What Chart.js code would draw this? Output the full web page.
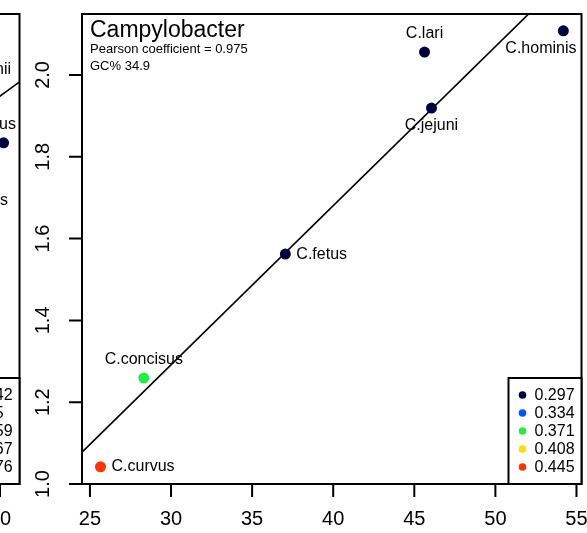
<!DOCTYPE html>
<html lang="en">
<head>
    <meta charset="utf-8">
    <title>Campylobacter</title>
    <script src="https://cdn.jsdelivr.net/npm/chart.js@4.4.1/dist/chart.umd.min.js"></script>
    <style>
        body { margin: 0; background: #fff; overflow: hidden; }
        #wrap { position: relative; width: 587px; height: 533px; overflow: hidden; }
        #wrap canvas { position: absolute; top: 0; }
    </style>
</head>
<body>

<div id="wrap">
    <canvas id="leftPanel" width="587" height="533" style="left:-562px"></canvas>
    <canvas id="graph" width="587" height="533" style="left:0"></canvas>
</div>

<script>
    // Campylobacter panel
    var species   = ["C.curvus", "C.concisus", "C.fetus", "C.jejuni", "C.lari", "C.hominis"];
    var gcPercent = [25.65, 28.32, 37.05, 46.06, 45.63, 54.19];
    var ratio     = [1.042, 1.259, 1.562, 1.919, 2.056, 2.108];
    var colourVal = [0.445, 0.371, 0.297, 0.297, 0.297, 0.297];
    var labelPos  = [4, 3, 4, 1, 3, 1];   // R style: 1 below, 2 left, 3 above, 4 right
    var fitX = [24.51, 52.05];
    var fitY = [1.078, 2.149];

    var legendVals = ["0.297", "0.334", "0.371", "0.408", "0.445"];
    var legendCols = ["#000040", "#0055ff", "#22ee44", "#ffdd00", "#ff3300"];

    var xTicks = [25, 30, 35, 40, 45, 50, 55];
    var yTicks = [1.0, 1.2, 1.4, 1.6, 1.8, 2.0];

    // neighbouring panel, only its right edge is in view
    var leftX = [50.22];
    var leftY = [1.834];
    var leftNotes = ["H.bizzozeronii", "H.hepaticus", "H.felis"];
    var leftNoteX = [50.68, 50.98, 50.49];
    var leftNoteY = [2.012, 1.878, 1.694];
    var leftFitX = [20.47, 51.2];
    var leftFitY = [1.09, 1.983];
    var leftLegendVals = ["0.342", "0.35", "0.359", "0.367", "0.376"];
    var leftXTicks = [25, 30, 35, 40, 45, 50];

    var FONT = '"Liberation Sans", Arial, Helvetica, sans-serif';

    function colourFor(v) {
        var best = 0;
        for (var i = 0; i < legendVals.length; i++) {
            if (Math.abs(parseFloat(legendVals[i]) - v) < Math.abs(parseFloat(legendVals[best]) - v)) best = i;
        }
        return legendCols[best];
    }

    // draws the R base graphics look: box, ticks, text, legend
    var rFrame = {
        id: "rFrame",
        afterDatasetsDraw: function(chart, args, o) {
            var ctx = chart.ctx, a = chart.chartArea;
            var sx = chart.scales.x, sy = chart.scales.y;
            ctx.save();
            ctx.strokeStyle = "#000";
            ctx.fillStyle = "#000";
            ctx.lineWidth = 2;
            ctx.strokeRect(a.left, a.top, a.right - a.left, a.bottom - a.top);

            // axes
            ctx.font = "20px " + FONT;
            ctx.textAlign = "center";
            ctx.textBaseline = "middle";
            ctx.beginPath();
            (o.xTicks || []).forEach(function(v) {
                var px = sx.getPixelForValue(v);
                ctx.moveTo(px, a.bottom);
                ctx.lineTo(px, a.bottom + 13);
                ctx.fillText(String(v), px, a.bottom + 35);
            });
            (o.yTicks || []).forEach(function(v) {
                var py = sy.getPixelForValue(v);
                ctx.moveTo(a.left - 13, py);
                ctx.lineTo(a.left, py);
                ctx.save();
                ctx.translate(a.left - 38.5, py);
                ctx.rotate(-Math.PI / 2);
                ctx.fillText(v.toFixed(1), 0, 0);
                ctx.restore();
            });
            ctx.stroke();

            // title block
            if (o.title) {
                ctx.textAlign = "left";
                ctx.textBaseline = "alphabetic";
                ctx.font = "23px " + FONT;
                ctx.fillText(o.title, a.left + 8, a.top + 23);
                ctx.font = "13px " + FONT;
                (o.sub || []).forEach(function(s, i) {
                    ctx.fillText(s, a.left + 8, a.top + 39 + i * 16.5);
                });
            }

            // point labels
            ctx.font = "16px " + FONT;
            ctx.textBaseline = "middle";
            var pts = chart.getDatasetMeta(0).data;
            (o.labels || []).forEach(function(txt, i) {
                var p = pts[i], pos = o.labelPos[i];
                var w = ctx.measureText(txt).width;
                var tx = p.x, ty = p.y;
                if (pos === 1) ty += 18;
                if (pos === 3) ty -= 18;
                if (pos === 1 || pos === 3) {
                    if (tx + w / 2 > a.right - 5) tx = a.right - 5 - w / 2;
                    ctx.textAlign = "center";
                } else if (pos === 4) {
                    tx += 11;
                    ctx.textAlign = "left";
                } else {
                    tx -= 11;
                    ctx.textAlign = "right";
                }
                ctx.fillText(txt, tx, ty);
            });
            (o.notes || []).forEach(function(txt, i) {
                ctx.textAlign = "right";
                ctx.fillText(txt, sx.getPixelForValue(o.noteX[i]), sy.getPixelForValue(o.noteY[i]));
            });

            // legend, bottom right
            if (o.legend) {
                var bw = 73, bh = 106;
                var lx = a.right - bw, ly = a.bottom - bh;
                ctx.fillStyle = "#fff";
                ctx.fillRect(lx, ly, bw, bh);
                ctx.lineWidth = 2;
                ctx.strokeRect(lx, ly, bw, bh);
                ctx.textAlign = "left";
                o.legend.forEach(function(txt, i) {
                    var ry = ly + 17 + i * 18;
                    ctx.fillStyle = legendCols[i];
                    ctx.beginPath();
                    ctx.arc(lx + 14, ry, 3.8, 0, Math.PI * 2);
                    ctx.fill();
                    ctx.fillStyle = "#000";
                    ctx.fillText(txt, lx + 26, ry + 1);
                });
            }
            ctx.restore();
        }
    };

    function makePanel(id, xs, ys, cols, lineX, lineY, xRange, frame) {
        var pts = xs.map(function(x, i) { return { x: x, y: ys[i] }; });
        var line = lineX.map(function(x, i) { return { x: x, y: lineY[i] }; });
        return new Chart(document.getElementById(id).getContext("2d"), {
            type: "scatter",
            data: {
                datasets: [
                    {
                        data: pts,
                        backgroundColor: cols,
                        borderWidth: 0,
                        pointRadius: 5.5,
                        pointHoverRadius: 5.5
                    },
                    {
                        type: "line",
                        data: line,
                        borderColor: "#000",
                        borderWidth: 1.7,
                        pointRadius: 0,
                        fill: false
                    }
                ]
            },
            options: {
                responsive: false,
                animation: false,
                devicePixelRatio: 1,
                layout: { padding: { left: 82, right: 5, top: 14, bottom: 49 } },
                scales: {
                    x: { type: "linear", display: false, min: xRange[0], max: xRange[1] },
                    y: { type: "linear", display: false, min: 1.0, max: 2.149 }
                },
                plugins: {
                    legend: { display: false },
                    tooltip: { enabled: false },
                    rFrame: frame
                }
            },
            plugins: [rFrame]
        });
    }

    makePanel("leftPanel", leftX, leftY, leftX.map(function() { return legendCols[0]; }),
        leftFitX, leftFitY, [20.47, 51.2], {
            xTicks: leftXTicks,
            yTicks: yTicks,
            notes: leftNotes,
            noteX: leftNoteX,
            noteY: leftNoteY,
            legend: leftLegendVals
        });

    makePanel("graph", gcPercent, ratio, colourVal.map(colourFor),
        fitX, fitY, [24.51, 55.31], {
            title: "Campylobacter",
            sub: ["Pearson coefficient = 0.975", "GC% 34.9"],
            xTicks: xTicks,
            yTicks: yTicks,
            labels: species,
            labelPos: labelPos,
            legend: legendVals
        });
</script>

</body>
</html>
